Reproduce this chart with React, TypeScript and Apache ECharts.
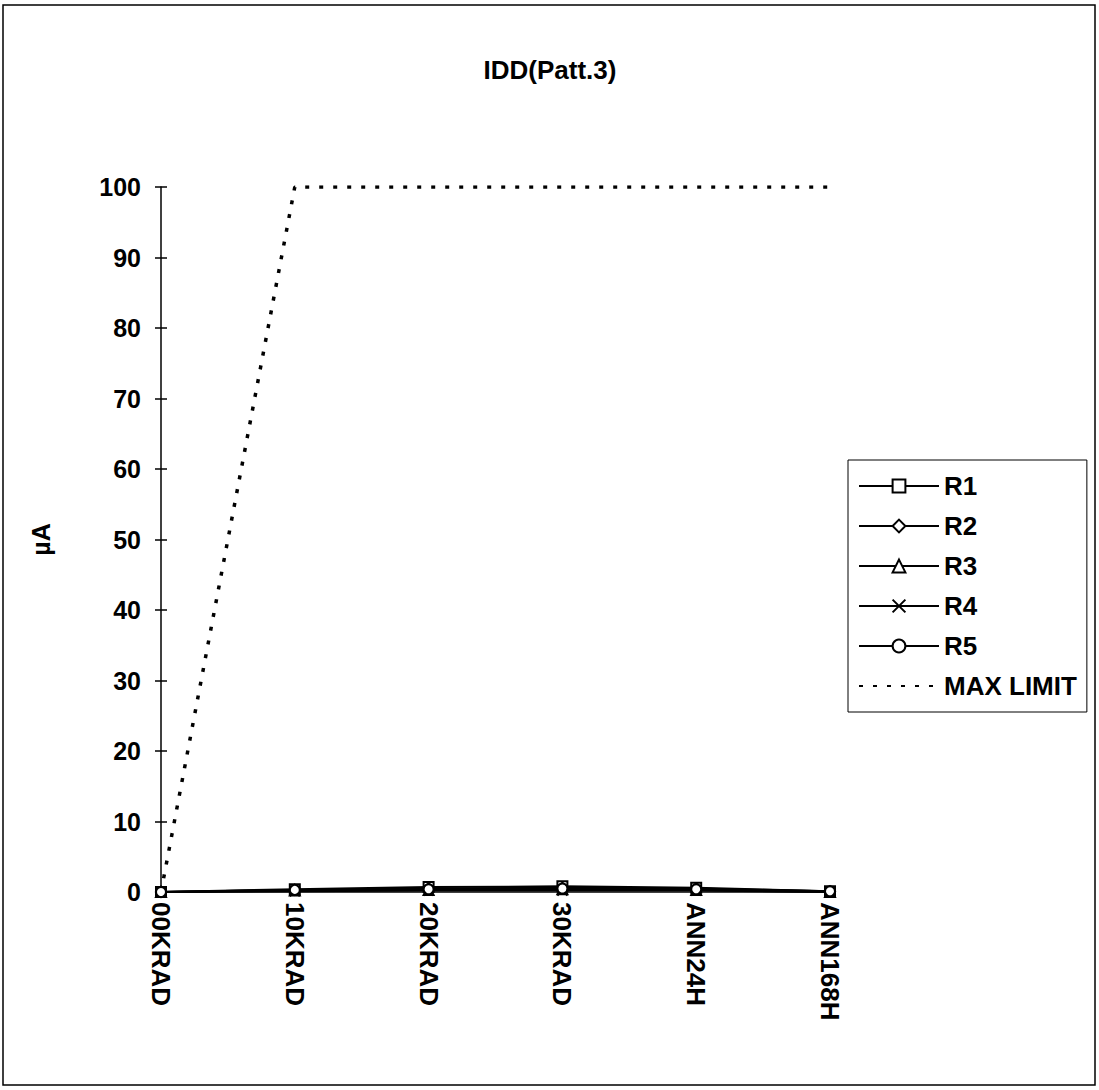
import React, { useEffect, useRef } from "react";
import * as echarts from "echarts";

const categories = ["00KRAD", "10KRAD", "20KRAD", "30KRAD", "ANN24H", "ANN168H"];
const r1 = [0, 0.4, 0.7, 0.8, 0.6, 0.1];
const r2 = [0, 0.3, 0.5, 0.6, 0.5, 0.1];
const r3 = [0, 0.2, 0.3, 0.4, 0.3, 0.0];
const r4 = [0, 0.1, 0.2, 0.2, 0.2, 0.0];
const r5 = [0, 0.3, 0.4, 0.5, 0.4, 0.1];
const maxLimit = [0, 100, 100, 100, 100, 100];

const FONT = "'Liberation Sans', Arial, sans-serif";
const X_SYMBOL = "path://M0,0L10,10M10,0L0,10";

export default function App() {
  const ref = useRef<HTMLDivElement>(null);
  useEffect(() => {
    if (!ref.current) return;
    const chart = echarts.init(ref.current, undefined, { renderer: "svg" });
    const runSeries = (name: string, data: number[], symbol: string) => ({
      name,
      type: "line",
      data,
      symbol,
      symbolSize: 10,
      showSymbol: true,
      lineStyle: { color: "#000", width: 2 },
      itemStyle: { color: symbol === X_SYMBOL ? "none" : "#000", borderColor: "#000", borderWidth: 2 },
      z: 3,
    });
    chart.setOption({
      animation: false,
      backgroundColor: "#fff",
      title: {
        text: "IDD(Patt.3)",
        left: 545,
        textAlign: "center",
        top: 52,
        textStyle: { fontFamily: FONT, fontWeight: "bold", fontSize: 26, color: "#000" },
      },
      graphic: [
        {
          type: "rect",
          shape: { x: 3, y: 5, width: 1092, height: 1080 },
          style: { fill: "none", stroke: "#000", lineWidth: 1.5 },
          silent: true,
        },
      ],
      legend: {
        orient: "vertical",
        left: 848,
        top: 460,
        itemWidth: 80,
        itemHeight: 16,
        itemGap: 14,
        padding: [13, 10, 13, 10],
        borderColor: "#000",
        borderWidth: 1,
        backgroundColor: "#fff",
        textStyle: { fontFamily: FONT, fontWeight: "bold", fontSize: 26, color: "#000" },
        data: [
          "R1",
          "R2",
          "R3",
          "R4",
          "R5",
          { name: "MAX LIMIT", itemStyle: { opacity: 0 } },
        ],
      },
      grid: { left: 161, right: 269, top: 187, bottom: 198, containLabel: false },
      xAxis: {
        type: "category",
        data: categories,
        boundaryGap: false,
        axisLine: { show: true, lineStyle: { color: "#000", width: 1.5 } },
        axisTick: { show: false },
        axisLabel: {
          rotate: -90,
          margin: 10,
          fontFamily: FONT,
          fontWeight: "bold",
          fontSize: 26,
          color: "#000",
        },
        splitLine: { show: false },
      },
      yAxis: [
        {
          type: "value",
          min: 0,
          max: 100,
          interval: 10,
          name: "µA",
          nameLocation: "middle",
          nameGap: 108,
          nameTextStyle: { fontFamily: FONT, fontWeight: "bold", fontSize: 25, color: "#000" },
          axisLine: { show: true, lineStyle: { color: "#000", width: 1.5 } },
          axisTick: { show: true, length: 6, lineStyle: { color: "#000", width: 1.5 } },
          axisLabel: { margin: 20, fontFamily: FONT, fontWeight: "bold", fontSize: 25, color: "#000" },
          splitLine: { show: false },
        },
        {
          type: "value",
          min: 0,
          max: 100,
          interval: 10,
          position: "left",
          axisLine: { show: false },
          axisTick: { show: true, inside: true, length: 6, lineStyle: { color: "#000", width: 1.5 } },
          axisLabel: { show: false },
          splitLine: { show: false },
        },
      ],
      series: [
        runSeries("R1", r1, "emptyRect"),
        runSeries("R2", r2, "emptyDiamond"),
        runSeries("R3", r3, "emptyTriangle"),
        runSeries("R4", r4, X_SYMBOL),
        runSeries("R5", r5, "emptyCircle"),
        {
          name: "MAX LIMIT",
          type: "line",
          data: maxLimit,
          symbol: "none",
          lineStyle: { color: "#000", width: 3.5, type: [4, 10] },
          itemStyle: { color: "#000" },
          z: 2,
        },
      ],
    });
    return () => chart.dispose();
  }, []);
  return (
    <div
      ref={ref}
      style={{ position: "fixed", left: 0, top: 0, width: 1099, height: 1090 }}
    />
  );
}
